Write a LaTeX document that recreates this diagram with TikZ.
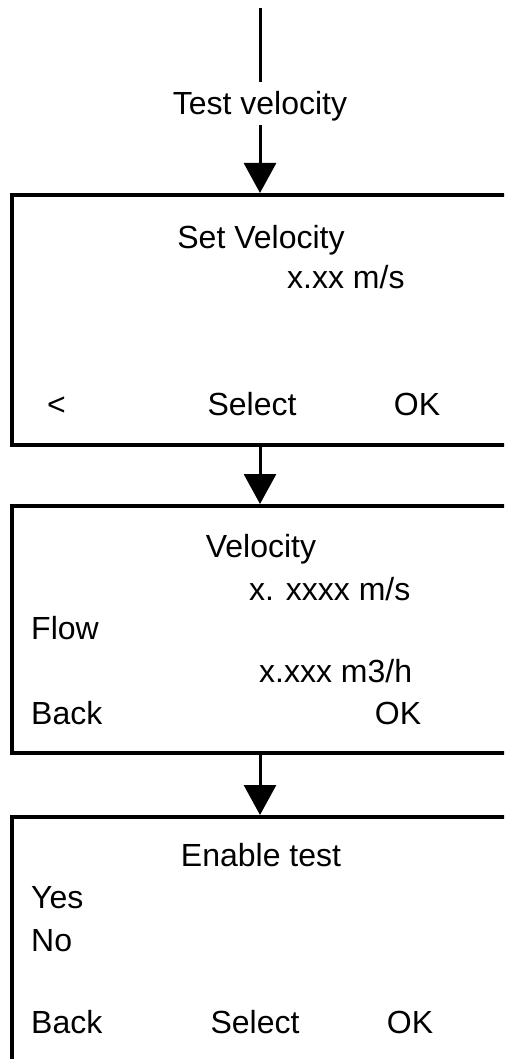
\documentclass[tikz,border=0pt]{standalone}
\usepackage{fontspec}
\setmainfont{Liberation Sans}
\usetikzlibrary{arrows.meta}
\begin{document}
\begin{tikzpicture}[x=1pt,y=-1pt,
  screen/.style={draw, line width=4pt, rectangle, minimum width=496pt, inner sep=0},
  flow/.style={line width=3pt, -{Triangle[width=32pt,length=30pt]}},
  plain/.style={line width=3pt},
  txt/.style={inner sep=0, font=\fontsize{32}{38}\selectfont},
  lw/.style={txt, anchor=base west},
  lc/.style={txt, anchor=base},
]
\useasboundingbox (0,0) rectangle (504,1059);
\clip (0,0) rectangle (504,1059);

% top label and connectors
\coordinate (start) at (260,8);
\node[txt, anchor=base, text height=31pt, text depth=8pt, inner ysep=2pt] (tv) at (260,115) {Test velocity};

% screens
\node[screen, minimum height=250pt] (s1) at (260,320) {};
\node[screen, minimum height=247pt] (s2) at (260,629.5) {};
\node[screen, minimum height=283pt] (s3) at (260,958.5) {};

\draw[plain] (start) -- (tv.north);
\draw[flow] (tv.south) -- (s1.north);
\draw[flow] (s1.south) -- (s2.north);
\draw[flow] (s2.south) -- (s3.north);

% screen 1 texts
\node[lc] (t1a) at (261,248) {Set Velocity};
\node[lw] (t1b) at (287,288) {x.xx m/s};
\node[lw] (t1c) at (47,415) {<};
\node[lc] (t1d) at (252,415) {Select};
\node[lc] (t1e) at (417,415) {OK};

% screen 2 texts
\node[lc] (t2a) at (261,557) {Velocity};
\node[lw] (t2b) at (249,600) {x. xxxx m/s};
\node[lw] (t2c) at (31,639) {Flow};
\node[lw] (t2d) at (259,682) {x.xxx m3/h};
\node[lw] (t2e) at (31,724) {Back};
\node[lc] (t2f) at (398,724) {OK};

% screen 3 texts
\node[lc] (t3a) at (261,866) {Enable test};
\node[lw] (t3b) at (31,908) {Yes};
\node[lw] (t3c) at (31,951) {No};
\node[lw] (t3d) at (31,1033) {Back};
\node[lc] (t3e) at (255,1033) {Select};
\node[lc] (t3f) at (410,1033) {OK};
\end{tikzpicture}
\end{document}
